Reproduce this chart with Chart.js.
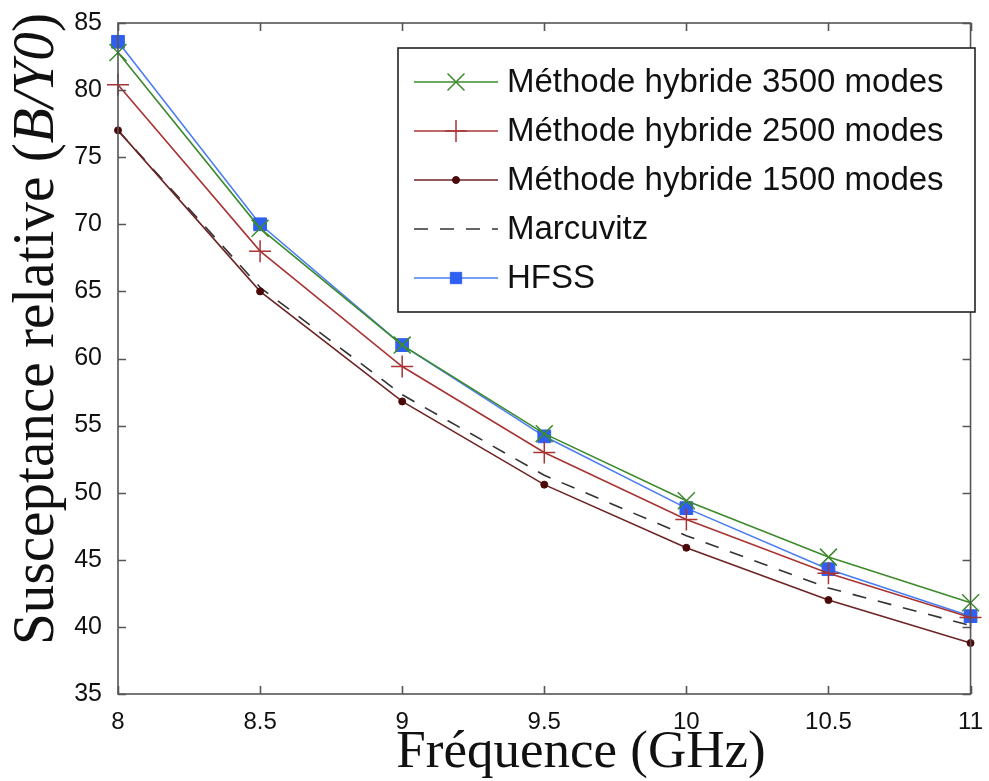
<!DOCTYPE html>
<html>
<head>
<meta charset="utf-8">
<script src="https://cdn.jsdelivr.net/npm/chart.js@4/dist/chart.umd.min.js"></script>
<style>
  html, body { margin: 0; padding: 0; background: #fff; }
  #wrap { width: 989px; height: 781px; }
</style>
</head>
<body>
<div id="wrap"><canvas id="chart" width="989" height="781"></canvas></div>
<script>
// data
const frequencies = [8, 8.5, 9, 9.5, 10, 10.5, 11];
const hybrid3500 = [82.8, 69.7, 61.0, 54.4, 49.4, 45.2, 41.8];
const hybrid2500 = [80.4, 68.0, 59.4, 53.0, 48.0, 44.0, 40.7];
const hybrid1500 = [77.0, 65.0, 56.8, 50.6, 45.9, 42.0, 38.8];
const marcuvitz = [77.0, 65.3, 57.3, 51.3, 46.8, 42.9, 40.1];
const hfss = [83.6, 70.0, 61.0, 54.2, 48.85, 44.3, 40.8];
const xTicks = [8, 8.5, 9, 9.5, 10, 10.5, 11];
const yTicks = [35, 40, 45, 50, 55, 60, 65, 70, 75, 80, 85];

function toPoints(values) {
	return values.map((v, i) => ({ x: frequencies[i], y: v }));
}

const datasets = [
	{
		label: "Méthode hybride 3500 modes",
		data: toPoints(hybrid3500),
		borderColor: "#3c8a2c",
		pointStyle: "crossRot",
		pointRadius: 12,
		pointBorderColor: "#3c8a2c",
		pointBorderWidth: 1.5
	},
	{
		label: "Méthode hybride 2500 modes",
		data: toPoints(hybrid2500),
		borderColor: "#a83434",
		pointStyle: "cross",
		pointRadius: 11,
		pointBorderColor: "#a83434",
		pointBorderWidth: 1.5
	},
	{
		label: "Méthode hybride 1500 modes",
		data: toPoints(hybrid1500),
		borderColor: "#6e2424",
		pointStyle: "circle",
		pointRadius: 3.5,
		pointBackgroundColor: "#4a0808",
		pointBorderColor: "#4a0808",
		pointBorderWidth: 1
	},
	{
		label: "Marcuvitz",
		data: toPoints(marcuvitz),
		borderColor: "#333333",
		borderDash: [14, 12],
		pointRadius: 0
	},
	{
		label: "HFSS",
		data: toPoints(hfss),
		borderColor: "#4a7df2",
		pointStyle: "rect",
		pointRadius: 9,
		pointBackgroundColor: "#2f5ff0",
		pointBorderColor: "#2f5ff0",
		pointBorderWidth: 1
	}
];
datasets.forEach(d => {
	d.borderWidth = 1.6;
	d.fill = false;
	d.tension = 0;
	d.clip = false; // markers on the axis edges stay whole
});

// frame, inward ticks, titles and the boxed legend, drawn like the MATLAB figure
const figurePlugin = {
	id: "figurePlugin",
	afterDraw(chart) {
		const ctx = chart.ctx;
		const area = chart.chartArea;
		const xs = chart.scales.x;
		const ys = chart.scales.y;
		ctx.save();

		// axes box
		ctx.strokeStyle = "#555";
		ctx.lineWidth = 1.6;
		ctx.strokeRect(area.left, area.top, area.right - area.left, area.bottom - area.top);

		// inward tick marks
		ctx.beginPath();
		xTicks.forEach(t => {
			const px = Math.round(xs.getPixelForValue(t)) + 0.5;
			ctx.moveTo(px, area.bottom); ctx.lineTo(px, area.bottom - 8);
			ctx.moveTo(px, area.top); ctx.lineTo(px, area.top + 8);
		});
		yTicks.forEach(t => {
			const py = Math.round(ys.getPixelForValue(t)) + 0.5;
			ctx.moveTo(area.left, py); ctx.lineTo(area.left + 8, py);
			ctx.moveTo(area.right, py); ctx.lineTo(area.right - 8, py);
		});
		ctx.stroke();

		// x title
		ctx.fillStyle = "#111";
		ctx.textBaseline = "alphabetic";
		ctx.font = "53px 'Liberation Serif', 'DejaVu Serif', serif";
		ctx.textAlign = "center";
		ctx.fillText("Fréquence (GHz)", 581, 767);

		// y title, with italic B/Y0
		ctx.save();
		ctx.translate(53, 329);
		ctx.rotate(-Math.PI / 2);
		const parts = [
			{ t: "Susceptance relative (", f: "60px 'Liberation Serif', serif" },
			{ t: "B/Y0", f: "italic 60px 'Liberation Serif', serif" },
			{ t: ")", f: "60px 'Liberation Serif', serif" }
		];
		let total = 0;
		parts.forEach(p => { ctx.font = p.f; p.w = ctx.measureText(p.t).width; total += p.w; });
		const sx = 632 / total;
		ctx.scale(sx, 1);
		let cx = -total / 2;
		ctx.textAlign = "left";
		parts.forEach(p => { ctx.font = p.f; ctx.fillText(p.t, cx, 0); cx += p.w; });
		ctx.restore();

		// legend box
		const lx = 398, ly = 48, lw = 577, lh = 264;
		ctx.fillStyle = "#fff";
		ctx.fillRect(lx, ly, lw, lh);
		ctx.strokeStyle = "#222";
		ctx.lineWidth = 1.6;
		ctx.strokeRect(lx, ly, lw, lh);
		ctx.font = "33px 'Liberation Sans', Arial, sans-serif";
		ctx.textAlign = "left";
		ctx.textBaseline = "middle";
		chart.data.datasets.forEach((d, i) => {
			const rowY = ly + 34 + i * 49;
			ctx.save();
			ctx.strokeStyle = d.borderColor;
			ctx.lineWidth = d.borderWidth;
			ctx.setLineDash(d.borderDash || []);
			ctx.beginPath();
			ctx.moveTo(lx + 16, rowY);
			ctx.lineTo(lx + 100, rowY);
			ctx.stroke();
			ctx.setLineDash([]);
			if (d.pointRadius > 0) {
				ctx.fillStyle = d.pointBackgroundColor || d.borderColor;
				ctx.strokeStyle = d.pointBorderColor;
				ctx.lineWidth = d.pointBorderWidth;
				Chart.helpers.drawPoint(ctx, {
					pointStyle: d.pointStyle,
					radius: d.pointStyle === "rect" ? 8 : d.pointRadius,
					borderWidth: d.pointBorderWidth,
					rotation: 0
				}, lx + 58, rowY);
			}
			ctx.restore();
			ctx.fillStyle = "#111";
			ctx.fillText(d.label, lx + 109, rowY + 1);
		});

		ctx.restore();
	}
};

new Chart(document.getElementById("chart"), {
	type: "line",
	data: { datasets: datasets },
	options: {
		responsive: false,
		animation: false,
		events: [],
		layout: { padding: { top: 19, right: 16, left: 0, bottom: 0 } },
		plugins: {
			legend: { display: false },
			tooltip: { enabled: false }
		},
		scales: {
			x: {
				type: "linear",
				min: 8,
				max: 11,
				afterBuildTicks: axis => { axis.ticks = xTicks.map(v => ({ value: v })); },
				grid: { display: false },
				border: { display: false },
				ticks: {
					color: "#111",
					padding: 6,
					maxRotation: 0,
					callback: v => String(v),
					font: { family: "'Liberation Sans', Arial, sans-serif", size: 24 }
				},
				afterFit: axis => { axis.height = 87; }
			},
			y: {
				min: 35,
				max: 85,
				afterBuildTicks: axis => { axis.ticks = yTicks.map(v => ({ value: v })); },
				grid: { display: false },
				border: { display: false },
				ticks: {
					color: "#111",
					padding: 8,
					callback: v => String(v),
					font: { family: "'Liberation Sans', Arial, sans-serif", size: 25 }
				},
				afterFit: axis => { axis.width = 118; }
			}
		}
	},
	plugins: [figurePlugin]
});
</script>
</body>
</html>
